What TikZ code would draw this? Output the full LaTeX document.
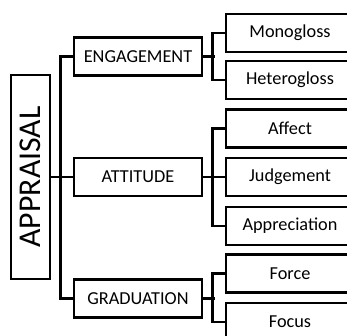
\documentclass[tikz,border=0pt]{standalone}
\usepackage{fontspec}
\setmainfont{Carlito}
\begin{document}
\begin{tikzpicture}[x=0.75pt,y=-0.75pt,
  box/.style={draw, line width=2pt, minimum width=96pt, minimum height=28.5pt, inner sep=0pt, font=\fontsize{13.7}{16}\selectfont},
  conn/.style={line width=1.9pt}]
\useasboundingbox (0,0) rectangle (347,336);
\clip (0,0) rectangle (347,336);
\node[draw, line width=2pt, rotate=90, minimum width=153pt, minimum height=29.25pt, inner sep=0pt, font=\fontsize{23.8}{28}\selectfont] (appr) at (30.5,177) {APPRAISAL};
\node[box] (eng) at (138,56.5) {ENGAGEMENT};
\node[box] (att) at (138,177) {ATTITUDE};
\node[box] (grad) at (138,298.5) {GRADUATION};
\node[box] (mono) at (290,33) {Monogloss};
\node[box] (het) at (290,80) {Heterogloss};
\node[box] (aff) at (290,128.5) {Affect};
\node[box] (judg) at (290,177) {Judgement};
\node[box] (apprec) at (290,226) {Appreciation};
\node[box] (force) at (290,273.5) {Force};
\node[box] (focus) at (290,322) {Focus};
\draw[conn] (eng.west) -- ++(-12,0) |- (grad.west);
\draw[conn] (appr.south) -- (att.west);
\draw[conn] (mono.west) -- ++(-12,0) |- (het.west);
\draw[conn] (eng.east) -- ++(12,0);
\draw[conn] (aff.west) -- ++(-12,0) |- (apprec.west);
\draw[conn] (att.east) -- (judg.west);
\draw[conn] (force.west) -- ++(-12,0) |- (focus.west);
\draw[conn] (grad.east) -- ++(12,0);
\end{tikzpicture}
\end{document}
